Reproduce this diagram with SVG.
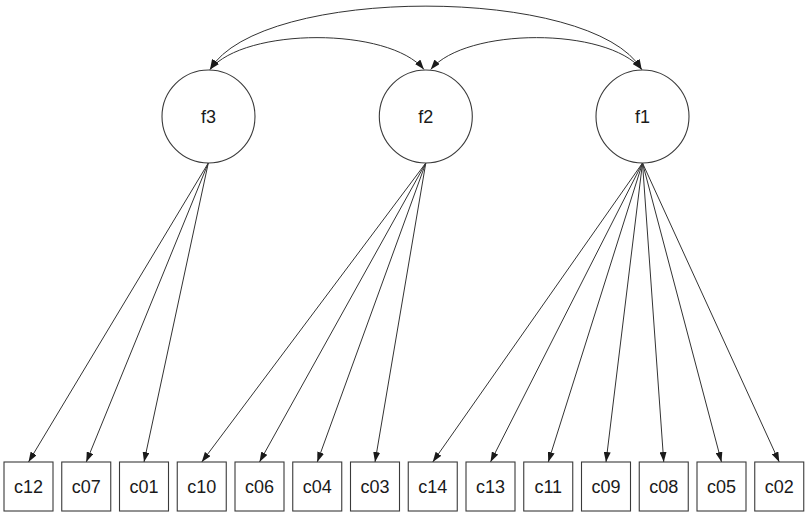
<svg xmlns="http://www.w3.org/2000/svg" width="810" height="516" viewBox="0 0 810 516">
<style>
.bg{fill:#ffffff}
.lat{fill:#ffffff;stroke:#3a3a3a;stroke-width:1.1}
.obs{fill:#ffffff;stroke:#3a3a3a;stroke-width:1.1}
.lbl{font-family:"Liberation Sans",Arial,sans-serif;font-size:18px;fill:#1a1a1a;text-anchor:middle}
.edge{fill:none;stroke:#333333;stroke-width:1}
</style>
<defs>
<marker id="ah" viewBox="0 0 10 7" refX="10" refY="3.5" markerWidth="10" markerHeight="7" markerUnits="userSpaceOnUse" orient="auto-start-reverse">
<path d="M0,0 L10,3.5 L0,7 z" fill="#1a1a1a"/>
</marker>
</defs>
<rect class="bg" x="0" y="0" width="810" height="516"/>
<g id="connectors">
<path class="edge" d="M210,69.5 C260,-15 592,-15 641.7,69.5" marker-start="url(#ah)" marker-end="url(#ah)"/>
<path class="edge" d="M210,69.5 C245,27 389,27 424,69.5" marker-start="url(#ah)" marker-end="url(#ah)"/>
<path class="edge" d="M430.7,69.5 C466,27 607,27 641.7,69.5" marker-start="url(#ah)" marker-end="url(#ah)"/>
<line class="edge" x1="208.3" y1="163" x2="28.5" y2="462" marker-end="url(#ah)"/>
<line class="edge" x1="208.3" y1="163" x2="86.25" y2="462" marker-end="url(#ah)"/>
<line class="edge" x1="208.3" y1="163" x2="144" y2="462" marker-end="url(#ah)"/>
<line class="edge" x1="425.8" y1="163" x2="201.75" y2="462" marker-end="url(#ah)"/>
<line class="edge" x1="425.8" y1="163" x2="259.5" y2="462" marker-end="url(#ah)"/>
<line class="edge" x1="425.8" y1="163" x2="317.25" y2="462" marker-end="url(#ah)"/>
<line class="edge" x1="425.8" y1="163" x2="375" y2="462" marker-end="url(#ah)"/>
<line class="edge" x1="642.5" y1="163" x2="432.75" y2="462" marker-end="url(#ah)"/>
<line class="edge" x1="642.5" y1="163" x2="490.5" y2="462" marker-end="url(#ah)"/>
<line class="edge" x1="642.5" y1="163" x2="548.25" y2="462" marker-end="url(#ah)"/>
<line class="edge" x1="642.5" y1="163" x2="606" y2="462" marker-end="url(#ah)"/>
<line class="edge" x1="642.5" y1="163" x2="663.75" y2="462" marker-end="url(#ah)"/>
<line class="edge" x1="642.5" y1="163" x2="721.5" y2="462" marker-end="url(#ah)"/>
<line class="edge" x1="642.5" y1="163" x2="779.25" y2="462" marker-end="url(#ah)"/>
</g>
<g id="f3"><circle class="lat" cx="208.5" cy="116.5" r="46.5"/><text class="lbl" x="208.5" y="123">f3</text></g>
<g id="f2"><circle class="lat" cx="425.8" cy="116.5" r="46.5"/><text class="lbl" x="425.8" y="123">f2</text></g>
<g id="f1"><circle class="lat" cx="642.5" cy="116.5" r="46.5"/><text class="lbl" x="642.5" y="123">f1</text></g>
<g id="c12"><rect class="obs" x="4" y="462" width="49" height="49"/><text class="lbl" x="28.5" y="492.5">c12</text></g>
<g id="c07"><rect class="obs" x="61.75" y="462" width="49" height="49"/><text class="lbl" x="86.25" y="492.5">c07</text></g>
<g id="c01"><rect class="obs" x="119.5" y="462" width="49" height="49"/><text class="lbl" x="144" y="492.5">c01</text></g>
<g id="c10"><rect class="obs" x="177.25" y="462" width="49" height="49"/><text class="lbl" x="201.75" y="492.5">c10</text></g>
<g id="c06"><rect class="obs" x="235" y="462" width="49" height="49"/><text class="lbl" x="259.5" y="492.5">c06</text></g>
<g id="c04"><rect class="obs" x="292.75" y="462" width="49" height="49"/><text class="lbl" x="317.25" y="492.5">c04</text></g>
<g id="c03"><rect class="obs" x="350.5" y="462" width="49" height="49"/><text class="lbl" x="375" y="492.5">c03</text></g>
<g id="c14"><rect class="obs" x="408.25" y="462" width="49" height="49"/><text class="lbl" x="432.75" y="492.5">c14</text></g>
<g id="c13"><rect class="obs" x="466" y="462" width="49" height="49"/><text class="lbl" x="490.5" y="492.5">c13</text></g>
<g id="c11"><rect class="obs" x="523.75" y="462" width="49" height="49"/><text class="lbl" x="548.25" y="492.5">c11</text></g>
<g id="c09"><rect class="obs" x="581.5" y="462" width="49" height="49"/><text class="lbl" x="606" y="492.5">c09</text></g>
<g id="c08"><rect class="obs" x="639.25" y="462" width="49" height="49"/><text class="lbl" x="663.75" y="492.5">c08</text></g>
<g id="c05"><rect class="obs" x="697" y="462" width="49" height="49"/><text class="lbl" x="721.5" y="492.5">c05</text></g>
<g id="c02"><rect class="obs" x="754.75" y="462" width="49" height="49"/><text class="lbl" x="779.25" y="492.5">c02</text></g>
</svg>
